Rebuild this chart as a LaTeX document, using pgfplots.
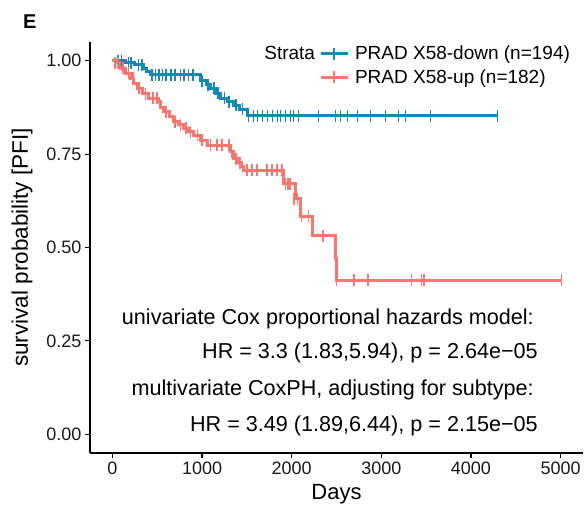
\documentclass[border=0pt]{standalone}
\usepackage{fontspec}
\setmainfont{Liberation Sans}
\usepackage{pgfplots}
\usepackage{pgfplotstable}
\pgfplotsset{compat=1.18}
\definecolor{kmblue}{HTML}{1689B2}
\definecolor{kmred}{HTML}{F8766D}

% step curves (time, survival)
\pgfplotstableread{
t s
0 1.000
150 0.995
250 0.989
346 0.980
380 0.972
420 0.962
982 0.946
1050 0.935
1094 0.926
1150 0.913
1205 0.900
1280 0.890
1350 0.881
1420 0.870
1503 0.853
4300 0.853
}\bluecurve
\pgfplotstableread{
t s
0 1.000
40 0.995
90 0.980
150 0.967
200 0.953
240 0.940
275 0.926
340 0.912
405 0.899
517 0.890
540 0.876
570 0.863
640 0.850
681 0.837
740 0.828
792 0.819
850 0.810
906 0.800
980 0.787
1057 0.774
1317 0.756
1350 0.738
1400 0.727
1440 0.716
1462 0.707
1912 0.671
2040 0.631
2098 0.584
2228 0.531
2489 0.470
2500 0.412
5010 0.412
}\redcurve
% censoring marks
\pgfplotstableread{
t s
60 1.000
100 1.000
180 0.995
210 0.995
290 0.989
330 0.989
440 0.962
480 0.962
520 0.962
560 0.962
600 0.962
650 0.962
700 0.962
760 0.962
800 0.962
850 0.962
900 0.962
1000 0.946
1070 0.935
1130 0.926
1180 0.913
1250 0.900
1300 0.890
1380 0.881
1450 0.870
1518 0.853
1574 0.853
1618 0.853
1674 0.853
1730 0.853
1786 0.853
1842 0.853
1875 0.853
1931 0.853
1987 0.853
2020 0.853
2076 0.853
2299 0.853
2489 0.853
2545 0.853
2623 0.853
2734 0.853
2879 0.853
3047 0.853
3192 0.853
3270 0.853
3549 0.853
4297 0.853
}\bluecens
\pgfplotstableread{
t s
30 0.995
60 0.995
120 0.980
180 0.967
230 0.953
300 0.926
370 0.912
450 0.899
500 0.899
600 0.863
700 0.837
760 0.828
820 0.819
870 0.810
950 0.800
1000 0.787
1094 0.774
1168 0.774
1224 0.774
1298 0.774
1330 0.756
1380 0.738
1420 0.727
1503 0.707
1559 0.707
1615 0.707
1727 0.707
1783 0.707
1839 0.707
1894 0.707
1931 0.671
1957 0.671
1979 0.671
2023 0.631
2065 0.631
2110 0.584
2188 0.584
2351 0.531
2500 0.412
2693 0.412
2854 0.412
3337 0.412
3449 0.412
3474 0.412
5010 0.412
}\redcens

\begin{document}
\begin{tikzpicture}[x=1pt,y=1pt]
\useasboundingbox (0,0) rectangle (587,507);
\node[anchor=base west, inner sep=0pt, font=\fontsize{20}{20}\selectfont\bfseries] at (23,478) {E};
\begin{axis}[
  at={(90pt,54pt)}, anchor=south west,
  scale only axis, width=493pt, height=411pt,
  xmin=-250, xmax=5250, ymin=-0.05, ymax=1.05,
  axis lines=left,
  axis line style={-, line width=1.1pt, black},
  tick align=outside, major tick length=5pt,
  tick style={line width=1.1pt, black},
  xtick={0,1000,2000,3000,4000,5000},
  ytick={0,0.25,0.5,0.75,1},
  /pgf/number format/assume math mode=true,
  xticklabel style={font=\fontsize{18}{18}\selectfont, text=black!90, /pgf/number format/1000 sep={}},
  yticklabel style={font=\fontsize{18}{18}\selectfont, text=black!90, /pgf/number format/.cd, fixed, fixed zerofill, precision=2},
  scaled ticks=false,
  xlabel={Days},
  ylabel={survival probability [PFI]},
  xlabel style={font=\fontsize{22}{22}\selectfont, at={(axis description cs:0.5,-0.1)}, anchor=center},
  ylabel style={font=\fontsize{22.5}{22.5}\selectfont, at={(axis description cs:-0.138,0.5)}, anchor=center},
  clip=false,
  legend columns=2,
  legend style={draw=none, fill=none, at={(axis description cs:0.335,1.0)}, anchor=north west,
    font=\fontsize{19}{19}\selectfont, row sep=4pt,
    /tikz/every even column/.append style={column sep=2pt},
    /tikz/every odd column/.append style={column sep=4pt}},
  legend cell align=left,
]
\addlegendimage{empty legend}\addlegendentry{Strata}
\addlegendimage{legend image code/.code={\draw[kmblue, line width=3pt] (0pt,0pt) -- (27pt,0pt); \draw[kmblue, line width=1.7pt] (13.5pt,-6pt) -- (13.5pt,6pt);}}
\addlegendentry{PRAD X58-down (n=194)}
\addlegendimage{empty legend}\addlegendentry{}
\addlegendimage{legend image code/.code={\draw[kmred, line width=3pt] (0pt,0pt) -- (27pt,0pt); \draw[kmred, line width=1.7pt] (13.5pt,-6pt) -- (13.5pt,6pt);}}
\addlegendentry{PRAD X58-up (n=182)}

\addplot[const plot, kmblue, line width=3pt, forget plot] table[x=t,y=s] {\bluecurve};
\addplot[only marks, mark=|, mark size=6pt, mark options={kmblue, line width=1.7pt}, forget plot] table[x=t,y=s] {\bluecens};
\addplot[const plot, kmred, line width=3pt, forget plot] table[x=t,y=s] {\redcurve};
\addplot[only marks, mark=|, mark size=6pt, mark options={kmred, line width=1.7pt}, forget plot] table[x=t,y=s] {\redcens};

\node[anchor=base east, inner sep=0pt, font=\fontsize{21.6}{21.6}\selectfont] at (axis description cs:0.9006,0.3127) {univariate Cox proportional hazards model:};
\node[anchor=base east, inner sep=0pt, font=\fontsize{21.6}{21.6}\selectfont] at (axis description cs:0.9087,0.2299) {HR = 3.3 (1.83,5.94), p = 2.64e\textminus05};
\node[anchor=base east, inner sep=0pt, font=\fontsize{21.6}{21.6}\selectfont] at (axis description cs:0.9006,0.1387) {multivariate CoxPH, adjusting for subtype:};
\node[anchor=base east, inner sep=0pt, font=\fontsize{21.6}{21.6}\selectfont] at (axis description cs:0.9087,0.0523) {HR = 3.49 (1.89,6.44), p = 2.15e\textminus05};
\end{axis}
\end{tikzpicture}
\end{document}
